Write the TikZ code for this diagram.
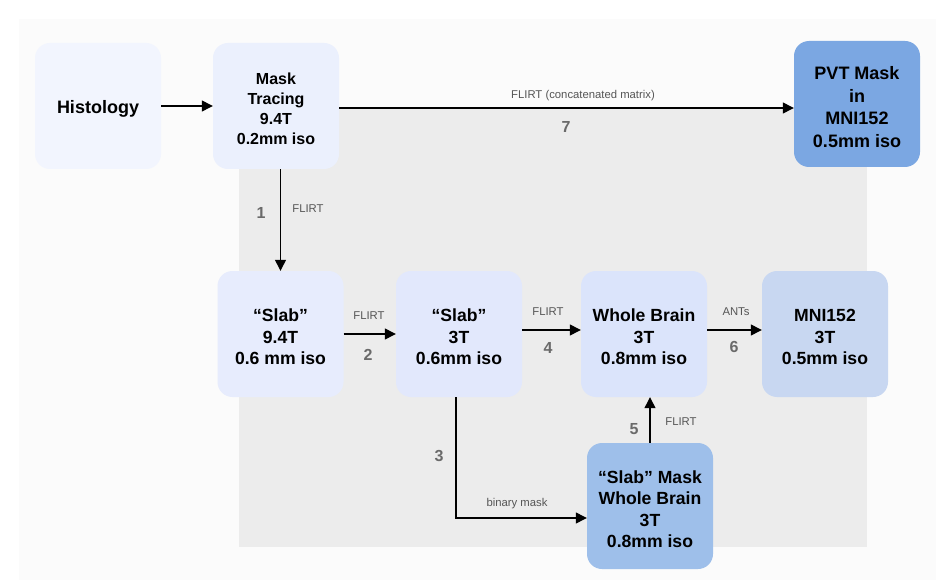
\documentclass[tikz,border=0pt]{standalone}
\usepackage{fontspec}
\setmainfont{Liberation Sans}
\usetikzlibrary{arrows.meta,calc}
\definecolor{outerbg}{HTML}{FBFBFB}
\definecolor{graybg}{HTML}{ECECEC}
\definecolor{cHist}{HTML}{F2F5FE}
\definecolor{cMask}{HTML}{EBF0FD}
\definecolor{cSlabA}{HTML}{E7ECFD}
\definecolor{cSlabB}{HTML}{E2E8FC}
\definecolor{cWB}{HTML}{DBE4FB}
\definecolor{cMNI}{HTML}{C8D7F1}
\definecolor{cSM}{HTML}{9EBFEA}
\definecolor{cPVT}{HTML}{7BA7E2}
\definecolor{lblgray}{HTML}{555555}
\definecolor{numgray}{HTML}{6A6A6A}
\newcommand{\tallstrut}{\rule{0pt}{1.08em}}
\tikzset{
  box/.style={rectangle, rounded corners=15pt, minimum width=126pt, minimum height=126pt,
    inner sep=0pt, align=center, text=black},
  midfont/.style={font=\fontsize{16}{20}\selectfont\bfseries},
  bigfont/.style={font=\fontsize{17.6}{21.5}\selectfont\bfseries},
  pvtfont/.style={font=\fontsize{18}{22.5}\selectfont\bfseries},
  arr/.style={draw=black, line width=1.3pt, -{Triangle[length=11pt,width=11pt]}},
  elabel/.style={font=\fontsize{11.3}{13}\selectfont, text=lblgray, inner sep=0pt},
  enum/.style={font=\fontsize{16}{18}\selectfont\bfseries, text=numgray, inner sep=0pt}
}
\begin{document}
\begin{tikzpicture}[x=1pt,y=-1pt]
\useasboundingbox (0,0) rectangle (950,580);
\fill[white] (0,0) rectangle (950,580);
\fill[outerbg] (19,19) rectangle (936,580);
\fill[graybg] (239,108) rectangle (867,547);

\node[box, fill=cHist, font=\fontsize{18}{22}\selectfont\bfseries] (hist) at (98,106) {\tallstrut Histology};
\node[box, midfont, fill=cMask] (mask) at (276,106) {\tallstrut Mask\\Tracing\\9.4T\\0.2mm iso};
\node[box, pvtfont, fill=cPVT] (pvt) at (857,104) {\tallstrut PVT Mask\\in\\MNI152\\0.5mm iso};
\node[box, bigfont, fill=cSlabA] (slaba) at (280.5,334) {\tallstrut “Slab”\\9.4T\\0.6 mm iso};
\node[box, bigfont, fill=cSlabB] (slabb) at (459,334) {\tallstrut “Slab”\\3T\\0.6mm iso};
\node[box, bigfont, fill=cWB] (wb) at (644,334) {\tallstrut Whole Brain\\3T\\0.8mm iso};
\node[box, bigfont, fill=cMNI] (mni) at (825,334) {\tallstrut MNI152\\3T\\0.5mm iso};
\node[box, bigfont, fill=cSM] (sm) at (650,506) {\tallstrut “Slab” Mask\\Whole Brain\\3T\\0.8mm iso};

\coordinate (p7) at ($(mask.east)+(0,2)$);
\coordinate (p3s) at ($(slabb.south)+(-3,0)$);
\coordinate (p3e) at ($(sm.west)+(0,12)$);

\draw[arr] (hist.east) -- (mask.west);
\draw[arr] (p7) -- (p7 -| pvt.west);
\draw[arr] (mask.south -| slaba.north) -- (slaba.north);
\draw[arr] (slaba.east) -- (slabb.west);
\draw[arr] ($(slabb.east)+(0,-4)$) -- ($(wb.west)+(0,-4)$);
\draw[arr] ($(wb.east)+(0,-4)$) -- ($(mni.west)+(0,-4)$);
\draw[arr] (sm.north) -- (sm.north |- wb.south);
\draw[arr] (p3s) |- (p3e);

\node[elabel] (l1) at (308,209) {FLIRT};
\node[enum] (n1) at (261,213) {1};
\node[elabel] (l7) at (583,96) {FLIRT (concatenated matrix)};
\node[enum] (n7) at (566,127) {7};
\node[elabel] (l2) at (369,316) {FLIRT};
\node[enum] (n2) at (368,355) {2};
\node[elabel] (l4) at (548,312) {FLIRT};
\node[enum] (n4) at (548,348) {4};
\node[elabel] (l6) at (736,312) {ANTs};
\node[enum] (n6) at (734,347) {6};
\node[enum] (n5) at (634,429) {5};
\node[elabel] (l5) at (681,422) {FLIRT};
\node[enum] (n3) at (439,456) {3};
\node[elabel] (l3) at (517,504) {binary mask};
\end{tikzpicture}
\end{document}
